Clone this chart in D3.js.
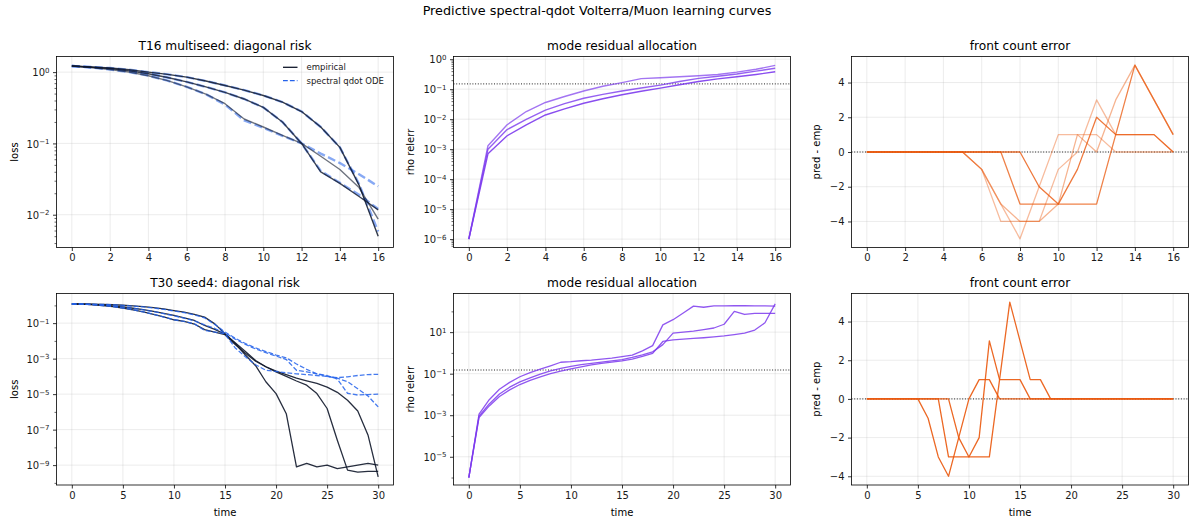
<!DOCTYPE html>
<html><head><meta charset="utf-8">
<script src="https://cdn.jsdelivr.net/npm/d3@7"></script>
<style>body{margin:0;background:#fff}svg{display:block}</style>
</head><body><svg id="c" width="1194" height="519"></svg>
<script>
// ---------------- DATA ----------------
const time16 = [0,1,2,3,4,5,6,7,8,9,10,11,12,13,14,15,16];
const time30 = [0,1,2,3,4,5,6,7,8,9,10,11,12,13,14,15,16,17,18,19,20,21,22,23,24,25,26,27,28,29,30];

// T16 multiseed: diagonal risk (loss)
const t16EmpA = [1.22,1.18,1.14,1.08,1.0,0.93,0.85,0.75,0.65,0.56,0.47,0.38,0.28,0.17,0.088,0.026,0.005];
const t16EmpB = [1.22,1.17,1.12,1.04,0.95,0.84,0.73,0.62,0.52,0.42,0.32,0.20,0.10,0.04,0.0275,0.018,0.0117];
const t16EmpC = [1.22,1.16,1.09,1.0,0.89,0.76,0.62,0.49,0.36,0.22,0.17,0.13,0.10,0.066,0.043,0.024,0.0087];
const t16OdeA = [1.22,1.18,1.14,1.08,1.0,0.93,0.85,0.75,0.65,0.56,0.47,0.38,0.28,0.17,0.088,0.027,0.0058];
const t16OdeB = [1.22,1.17,1.12,1.04,0.95,0.84,0.73,0.62,0.52,0.42,0.32,0.20,0.10,0.041,0.028,0.019,0.012];
const t16OdeC = [1.22,1.16,1.09,1.0,0.89,0.76,0.62,0.49,0.35,0.21,0.165,0.128,0.10,0.072,0.053,0.037,0.025];

// T16 mode residual allocation (rho relerr)
const t16Rho1 = [1e-6,1.3e-3,6.5e-3,0.018,0.036,0.057,0.087,0.125,0.165,0.225,0.24,0.26,0.28,0.31,0.37,0.46,0.62];
const t16Rho2 = [1e-6,1.0e-3,4.5e-3,0.0098,0.02,0.033,0.05,0.067,0.087,0.11,0.137,0.18,0.23,0.27,0.32,0.4,0.5];
const t16Rho3 = [1e-6,0.7e-3,2.8e-3,0.0065,0.0138,0.022,0.034,0.048,0.065,0.085,0.108,0.14,0.18,0.22,0.26,0.31,0.38];
const rhoThreshold = 0.15;

// T16 front count error (pred - emp)
const t16FrontA = [0,0,0,0,0,0,0,0,0,-2,-3,-1,2,1,1,1,0];
const t16FrontB = [0,0,0,0,0,0,0,0,-3,-3,-3,-3,-3,1,5,3,1];
const t16FrontC = [0,0,0,0,0,0,-1,-3,-5,-2,1,1,1,0,0,0,0];
const t16FrontD = [0,0,0,0,0,0,-1,-4,-4,-4,-1,0,3,1,1,1,0];
const t16FrontE = [0,0,0,0,0,0,-1,-3,-4,-4,-3,1,0,3,5,3,1];

// T30 seed4: diagonal risk (loss)
const t30Emp1 = [1.20,1.20,1.17,1.15,1.10,1.02,0.93,0.85,0.74,0.63,0.51,0.42,0.316,0.219,0.091,0.025,7.1e-3,1.6e-3,4.0e-4,5.0e-5,1.07e-5,7.9e-7,7.9e-10,1.26e-9,7.9e-10,1.0e-9,6.3e-10,7.9e-10,1.0e-9,1.26e-9,1.0e-9];
const t30Emp2 = [1.20,1.17,1.12,1.05,0.93,0.81,0.69,0.575,0.46,0.355,0.27,0.2,0.141,0.074,0.045,0.024,7.9e-3,2.5e-3,7.9e-4,3.5e-4,1.8e-4,1.0e-4,5.5e-5,3.2e-5,1.07e-5,1.55e-6,2.5e-8,5.2e-10,4.0e-10,4.5e-10,4.5e-10];
const t30Emp3 = [1.20,1.17,1.10,0.98,0.85,0.71,0.56,0.43,0.316,0.224,0.155,0.126,0.089,0.043,0.0316,0.0224,6.3e-3,2.0e-3,7.1e-4,3.5e-4,2.0e-4,1.26e-4,7.9e-5,5.6e-5,4.0e-5,2.5e-5,1.26e-5,4.5e-6,1.12e-6,5.0e-8,2.2e-10];
const t30Ode1 = [1.20,1.20,1.17,1.14,1.09,1.0,0.91,0.82,0.71,0.6,0.48,0.39,0.29,0.2,0.085,0.0316,0.0141,7.1e-3,4.0e-3,2.5e-3,1.6e-3,1.12e-3,5.0e-4,2.5e-4,1.4e-4,1.0e-4,8.5e-5,9.5e-5,1.12e-4,1.26e-4,1.3e-4];
const t30Ode2 = [1.20,1.17,1.12,1.05,0.93,0.8,0.68,0.56,0.45,0.34,0.26,0.19,0.135,0.08,0.05,0.028,0.0126,6.3e-3,3.5e-3,2.2e-3,1.4e-3,8.9e-4,2.2e-4,1.8e-4,1.4e-4,1.12e-4,7.1e-5,1.12e-5,8.9e-6,9.5e-6,1.0e-5];
const t30Ode3 = [1.20,1.17,1.10,0.98,0.85,0.71,0.56,0.43,0.31,0.22,0.155,0.125,0.091,0.039,0.0316,0.025,4.0e-3,1.26e-3,4.5e-4,2.2e-4,1.9e-4,1.6e-4,1.4e-4,1.26e-4,1.12e-4,1.0e-4,7.9e-5,5.0e-5,2.0e-5,7.9e-6,1.9e-6];

// T30 mode residual allocation
const t30Rho1 = [1e-6,1.12e-3,5.6e-3,0.0178,0.038,0.071,0.112,0.166,0.24,0.355,0.38,0.42,0.45,0.5,0.56,0.66,0.79,1.26,2.24,22.4,39.8,83,178,158,182,182,186,186,182,182,178];
const t30Rho2 = [1e-6,8.9e-4,3.5e-3,0.0105,0.0224,0.04,0.063,0.095,0.135,0.178,0.224,0.275,0.316,0.363,0.417,0.479,0.603,0.794,1.12,2.51,8.9,10,11.2,13.2,15.8,24,100,70.8,79.4,79.4,79.4];
const t30Rho3 = [1e-6,7.6e-4,2.8e-3,7.9e-3,0.0166,0.030,0.048,0.071,0.1,0.132,0.17,0.214,0.263,0.316,0.363,0.417,0.5,0.676,0.955,3.55,4.27,4.57,5.0,5.37,5.89,6.6,7.6,8.9,12.6,28.2,229];

// T30 front count error
const t30Front1 = [0,0,0,0,0,0,-1,-3,-4,-2,0,1,1,0,0,0,0,0,0,0,0,0,0,0,0,0,0,0,0,0,0];
const t30Front2 = [0,0,0,0,0,0,0,0,-3,-3,-3,-3,-3,1,5,3,1,1,0,0,0,0,0,0,0,0,0,0,0,0,0];
const t30Front3 = [0,0,0,0,0,0,0,0,0,-2,-3,-2,3,1,1,1,0,0,0,0,0,0,0,0,0,0,0,0,0,0,0];

// tick values
const xTicks16 = [0,2,4,6,8,10,12,14,16];
const xTicks30 = [0,5,10,15,20,25,30];
const frontTicks = [-4,-2,0,2,4];

// ---------------- DRAW ----------------
const FONT = '"DejaVu Sans", Verdana, sans-serif';
const svg = d3.select('#c');
const NAVY = '#0f172a', BLUE = '#2563eb', VIOLET = '#7c3aed', ORANGE = '#ea580c';
const TICKFS = 10, TITLEFS = 12.2;

svg.append('text').attr('x', 597).attr('y', 14.5).attr('text-anchor','middle')
  .attr('font-family', FONT).attr('font-size', 12.8).attr('fill','#000')
  .text('Predictive spectral-qdot Volterra/Muon learning curves');

function decadeMinors(lo, hi, subs){
  const out = [];
  for (let e = Math.floor(Math.log10(lo)) - 1; e <= Math.ceil(Math.log10(hi)); e++){
    subs.forEach(s => { const v = s * Math.pow(10, e); if (v >= lo && v <= hi) out.push(v); });
  }
  return out;
}

let clipN = 0;
function panel(p){
  const g = svg.append('g');
  const x = d3.scaleLinear().domain(p.xDomain).range([p.x0, p.x0 + p.w]);
  const y = (p.log ? d3.scaleLog() : d3.scaleLinear()).domain(p.yDomain).range([p.y0 + p.h, p.y0]);
  // grid
  g.append('g').selectAll('line').data(p.xTicks).join('line')
    .attr('x1', d => x(d)).attr('x2', d => x(d)).attr('y1', p.y0).attr('y2', p.y0 + p.h)
    .attr('stroke', '#b0b0b0').attr('stroke-opacity', 0.3).attr('stroke-width', 0.8);
  g.append('g').selectAll('line').data(p.yTicks).join('line')
    .attr('y1', d => y(d)).attr('y2', d => y(d)).attr('x1', p.x0).attr('x2', p.x0 + p.w)
    .attr('stroke', '#b0b0b0').attr('stroke-opacity', 0.3).attr('stroke-width', 0.8);
  // clip
  const id = 'clip' + (clipN++);
  svg.append('clipPath').attr('id', id).append('rect')
    .attr('x', p.x0).attr('y', p.y0).attr('width', p.w).attr('height', p.h);
  const plot = g.append('g').attr('clip-path', `url(#${id})`);
  p.draw(plot, x, y);
  // frame
  g.append('rect').attr('x', p.x0).attr('y', p.y0).attr('width', p.w).attr('height', p.h)
    .attr('fill', 'none').attr('stroke', '#000').attr('stroke-width', 0.8);
  // x axis
  const ax = g.append('g').attr('transform', `translate(0,${p.y0 + p.h})`)
    .call(d3.axisBottom(x).tickValues(p.xTicks).tickSize(3.5).tickPadding(3).tickSizeOuter(0).tickFormat(d3.format('d')));
  ax.select('.domain').remove();
  ax.attr('font-family', FONT).attr('font-size', TICKFS);
  ax.selectAll('line').attr('stroke', '#000').attr('stroke-width', 0.8);
  ax.selectAll('text').attr('fill', '#1a1a1a');
  // y axis
  const ay = g.append('g').attr('transform', `translate(${p.x0},0)`)
    .call(d3.axisLeft(y).tickValues(p.yTicks).tickSize(3.5).tickPadding(3.5).tickSizeOuter(0)
      .tickFormat(p.log ? (() => '') : d3.format('d')));
  ay.select('.domain').remove();
  ay.attr('font-family', FONT).attr('font-size', TICKFS);
  ay.selectAll('line').attr('stroke', '#000').attr('stroke-width', 0.8);
  ay.selectAll('text').attr('fill', '#1a1a1a');
  if (p.log){
    ay.selectAll('.tick text').each(function(d){
      const e = Math.round(Math.log10(d));
      const t = d3.select(this);
      t.text(null).attr('dy', '0.36em');
      t.append('tspan').text('10');
      t.append('tspan').attr('dy', '-0.52em').attr('font-size', '0.7em').text(e < 0 ? '\u2212' + (-e) : String(e));
    });
    if (p.yMinor){
      const am = g.append('g').attr('transform', `translate(${p.x0},0)`)
        .call(d3.axisLeft(y).tickValues(p.yMinor).tickSize(2).tickFormat(() => '').tickSizeOuter(0));
      am.select('.domain').remove();
      am.selectAll('line').attr('stroke', '#000').attr('stroke-width', 0.6);
    }
  }
  // title
  g.append('text').attr('x', p.x0 + p.w / 2).attr('y', p.y0 - 7).attr('text-anchor', 'middle')
    .attr('font-family', FONT).attr('font-size', TITLEFS).attr('fill', '#000').text(p.title);
  // ylabel
  g.append('text').attr('transform', `translate(${p.ylabX},${p.y0 + p.h / 2}) rotate(-90)`)
    .attr('text-anchor', 'middle').attr('font-family', FONT).attr('font-size', TICKFS).attr('fill', '#000').text(p.ylabel);
  if (p.xlabel){
    g.append('text').attr('x', p.x0 + p.w / 2).attr('y', 516).attr('text-anchor', 'middle')
      .attr('font-family', FONT).attr('font-size', TICKFS).attr('fill', '#000').text(p.xlabel);
  }
  return {x, y, g};
}

function addLine(plot, x, y, xs, ys, style){
  const line = d3.line().x((d, i) => x(xs[i])).y(d => y(d));
  plot.append('path').datum(ys).attr('d', line).attr('fill', 'none')
    .attr('stroke', style.color).attr('stroke-width', style.width || 1.3)
    .attr('stroke-opacity', style.opacity == null ? 1 : style.opacity)
    .attr('stroke-dasharray', style.dash || null)
    .attr('stroke-linejoin', 'round');
}
function hline(plot, x, y, v){
  const xd = x.domain();
  plot.append('line').attr('x1', x(xd[0])).attr('x2', x(xd[1])).attr('y1', y(v)).attr('y2', y(v))
    .attr('stroke', '#222').attr('stroke-width', 1).attr('stroke-dasharray', '1,1.7');
}

const colX = [56.5, 453.5, 851.5], W = 337;
const rowY = [56.5, 293.5], Hs = [191, 191.5];

// Top-left
const tl = panel({
  x0: colX[0], y0: rowY[0], w: W, h: Hs[0], xDomain: [-0.8, 16.8], log: true,
  yDomain: [Math.pow(10, -2.46), Math.pow(10, 0.219)],
  xTicks: xTicks16, yTicks: [1e-2, 1e-1, 1],
  yMinor: decadeMinors(Math.pow(10, -2.46), Math.pow(10, 0.219), [2,3,4,5,6,7,8,9]),
  title: 'T16 multiseed: diagonal risk', ylabel: 'loss', ylabX: 18,
  draw: (pl, x, y) => {
    [t16OdeA, t16OdeB, t16OdeC].forEach(s => addLine(pl, x, y, time16, s, {color: BLUE, width: 2.4, opacity: 0.55, dash: '8,3.5'}));
    [[t16EmpA, 0.85], [t16EmpB, 0.8], [t16EmpC, 0.6]].forEach(([s, o]) => addLine(pl, x, y, time16, s, {color: NAVY, width: 1.4, opacity: o}));
  }
});
// legend
(function(){
  const g = tl.g;
  const lx = 283, rows = [67.3, 80.7];
  g.append('line').attr('x1', lx).attr('x2', lx + 14.5).attr('y1', rows[0]).attr('y2', rows[0]).attr('stroke', NAVY).attr('stroke-width', 1.3);
  g.append('line').attr('x1', lx).attr('x2', lx + 14.5).attr('y1', rows[1]).attr('y2', rows[1]).attr('stroke', BLUE).attr('stroke-width', 1.3).attr('stroke-dasharray', '4.8,2.1');
  g.append('text').attr('x', lx + 23.5).attr('y', rows[0] + 3).attr('font-family', FONT).attr('font-size', 8.5).attr('fill', '#222').text('empirical');
  g.append('text').attr('x', lx + 23.5).attr('y', rows[1] + 3).attr('font-family', FONT).attr('font-size', 8.5).attr('fill', '#222').text('spectral qdot ODE');
})();

// Top-middle
panel({
  x0: colX[1], y0: rowY[0], w: W, h: Hs[0], xDomain: [-0.8, 16.8], log: true,
  yDomain: [Math.pow(10, -6.28), Math.pow(10, 0.09)],
  xTicks: xTicks16, yTicks: [1e-6, 1e-5, 1e-4, 1e-3, 1e-2, 1e-1, 1],
  yMinor: decadeMinors(Math.pow(10, -6.28), Math.pow(10, 0.09), [2,3,4,5,6,7,8,9]),
  title: 'mode residual allocation', ylabel: 'rho relerr', ylabX: 414,
  draw: (pl, x, y) => {
    hline(pl, x, y, rhoThreshold);
    [[t16Rho1, 0.7], [t16Rho2, 0.8], [t16Rho3, 0.9]].forEach(([s, o]) => addLine(pl, x, y, time16, s, {color: VIOLET, width: 1.4, opacity: o}));
  }
});

// Top-right
panel({
  x0: colX[2], y0: rowY[0], w: W, h: Hs[0], xDomain: [-0.8, 16.8], log: false,
  yDomain: [-5.5, 5.5], xTicks: xTicks16, yTicks: frontTicks,
  title: 'front count error', ylabel: 'pred - emp', ylabX: 820,
  draw: (pl, x, y) => {
    hline(pl, x, y, 0);
    [[t16FrontC, 0.4], [t16FrontD, 0.4], [t16FrontE, 0.45], [t16FrontA, 0.8], [t16FrontB, 0.75]]
      .forEach(([s, o]) => addLine(pl, x, y, time16, s, {color: ORANGE, width: 1.3, opacity: o}));
  }
});

// Bottom-left
panel({
  x0: colX[0], y0: rowY[1], w: W, h: Hs[1], xDomain: [-1.5, 31.5], log: true,
  yDomain: [Math.pow(10, -10.12), Math.pow(10, 0.67)],
  xTicks: xTicks30, yTicks: [1e-9, 1e-7, 1e-5, 1e-3, 1e-1],
  yMinor: [1e-10, 1e-8, 1e-6, 1e-4, 1e-2, 1],
  title: 'T30 seed4: diagonal risk', ylabel: 'loss', ylabX: 18, xlabel: 'time',
  draw: (pl, x, y) => {
    [t30Emp1, t30Emp2, t30Emp3].forEach(s => addLine(pl, x, y, time30, s, {color: NAVY, width: 1.3, opacity: 0.9}));
    [t30Ode1, t30Ode2, t30Ode3].forEach(s => addLine(pl, x, y, time30, s, {color: BLUE, width: 1.3, opacity: 0.85, dash: '4.8,2.1'}));
  }
});

// Bottom-middle
panel({
  x0: colX[1], y0: rowY[1], w: W, h: Hs[1], xDomain: [-1.5, 31.5], log: true,
  yDomain: [Math.pow(10, -6.36), Math.pow(10, 2.86)],
  xTicks: xTicks30, yTicks: [1e-5, 1e-3, 1e-1, 10],
  yMinor: [1e-6, 1e-4, 1e-2, 1, 100],
  title: 'mode residual allocation', ylabel: 'rho relerr', ylabX: 414, xlabel: 'time',
  draw: (pl, x, y) => {
    hline(pl, x, y, rhoThreshold);
    [t30Rho1, t30Rho2, t30Rho3].forEach(s => addLine(pl, x, y, time30, s, {color: VIOLET, width: 1.3, opacity: 0.85}));
  }
});

// Bottom-right
panel({
  x0: colX[2], y0: rowY[1], w: W, h: Hs[1], xDomain: [-1.5, 31.5], log: false,
  yDomain: [-4.45, 5.45], xTicks: xTicks30, yTicks: frontTicks,
  title: 'front count error', ylabel: 'pred - emp', ylabX: 820, xlabel: 'time',
  draw: (pl, x, y) => {
    hline(pl, x, y, 0);
    [t30Front1, t30Front2, t30Front3].forEach(s => addLine(pl, x, y, time30, s, {color: ORANGE, width: 1.3, opacity: 0.9}));
  }
});
</script></body></html>
